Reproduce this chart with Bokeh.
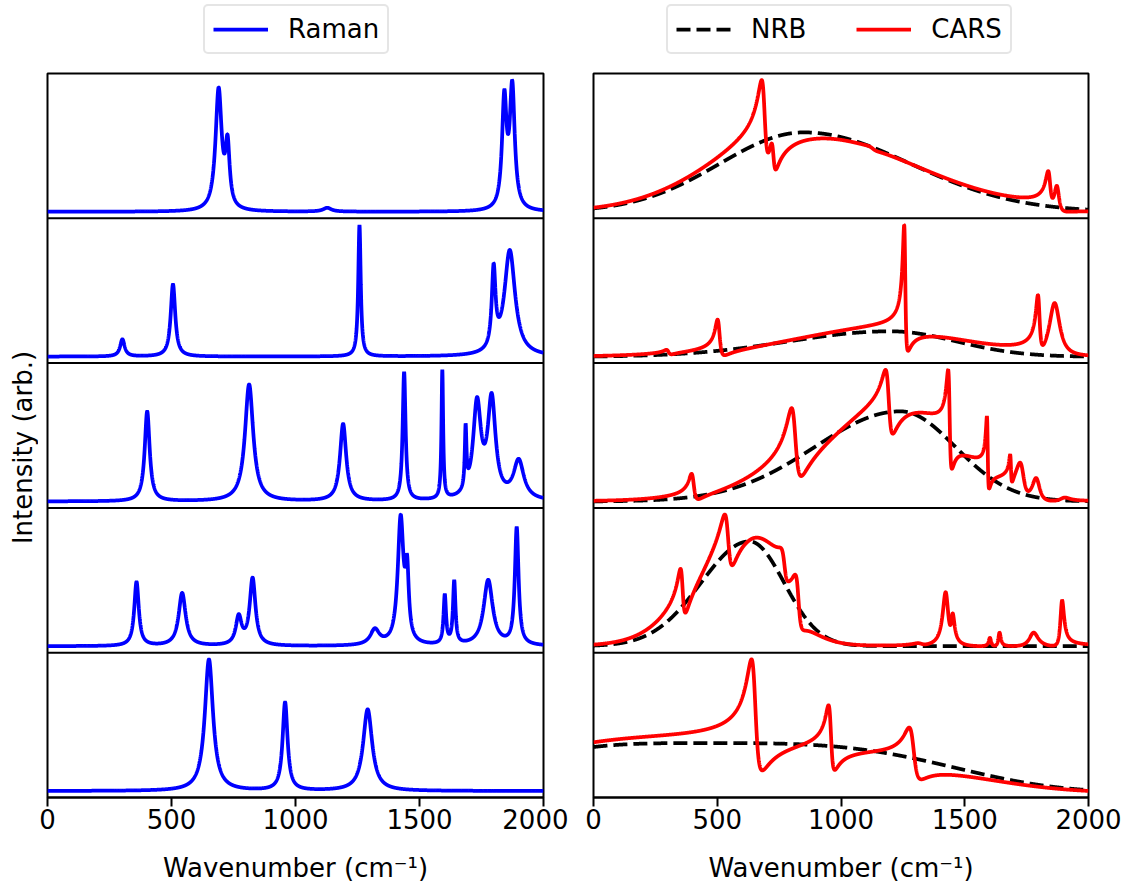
import numpy as np
from math import pi
from bokeh.plotting import figure
from bokeh.models import Range1d, Span, Legend, LegendItem, Label, FixedTicker
from bokeh.layouts import row, column
from bokeh.embed import file_html
from bokeh.resources import INLINE

# ---------------- data ----------------
x_ticks = [0, 500, 1000, 1500, 2000]
x_label = "Wavenumber (cm\u207b\u00b9)"
y_label = "Intensity (arb.)"

# Raman bands per panel (top to bottom): centre (cm-1), height, half width (cm-1)
p1_pos = [690, 726, 1128, 1842, 1874]
p1_amp = [0.95, 0.47, 0.03, 0.85, 0.95]
p1_wid = [15, 10, 20, 11, 12]

p2_pos = [302, 506, 1258, 1799, 1864]
p2_amp = [0.13, 0.55, 1.0, 0.60, 0.80]
p2_wid = [11, 11, 6, 9, 26]

p3_pos = [402, 813, 1192, 1438, 1592, 1686, 1732, 1791, 1900]
p3_amp = [0.70, 0.91, 0.60, 1.0, 1.0, 0.47, 0.73, 0.76, 0.30]
p3_wid = [12, 20, 15, 7, 4, 4, 19, 19, 25]

p4_pos = [359, 543, 771, 827, 1320, 1424, 1450, 1602, 1640, 1777, 1892]
p4_amp = [0.46, 0.38, 0.20, 0.48, 0.11, 0.90, 0.45, 0.35, 0.45, 0.47, 0.84]
p4_wid = [11, 17, 14, 14, 22, 14, 8, 6, 6, 22, 9]

p5_pos = [651, 958, 1291]
p5_amp = [1.0, 0.67, 0.62]
p5_wid = [20, 12, 22]

# CARS: Raman susceptibility scale per panel
cars_scale = [0.42, 0.80, 0.49, 0.68, 0.61]
# NRB envelope per panel: peak value, centre, left width, right width, exponent
nrb_amp = [0.62, 0.20, 0.69, 0.83, 0.39]
nrb_ctr = [850, 1200, 1240, 630, 450]
nrb_wl = [340, 410, 345, 195, 757]
nrb_wr = [430, 265, 222, 140, 921]
nrb_pow = [2, 2, 2, 2, 3.45]

panels = [(p1_pos, p1_amp, p1_wid), (p2_pos, p2_amp, p2_wid), (p3_pos, p3_amp, p3_wid),
          (p4_pos, p4_amp, p4_wid), (p5_pos, p5_amp, p5_wid)]

wn = np.linspace(0, 2000, 4001)


def chi_r(pos, amp, wid):
    c = np.zeros_like(wn, dtype=complex)
    for c0, a, g in zip(pos, amp, wid):
        c += a * g / (c0 - wn - 1j * g)
    return c


def nrb_curve(i):
    w = np.where(wn < nrb_ctr[i], nrb_wl[i], nrb_wr[i])
    return nrb_amp[i] * np.exp(-0.5 * np.abs((wn - nrb_ctr[i]) / w) ** nrb_pow[i])


def to_band(curves, i):
    lo = min(c.min() for c in curves)
    hi = max(c.max() for c in curves)
    r = hi - lo
    base = 4 - i
    return [base + (c - lo + 0.05 * r) / (1.1 * r) for c in curves]


FONT = "DejaVu Sans"
FS = "26px"
LW = 3.75
DASH = "14 6"


def make_fig(width, left, right):
    p = figure(width=width, height=825, x_range=Range1d(0, 2000), y_range=Range1d(0, 5),
               output_backend="svg", toolbar_location=None, y_axis_location=None,
               min_border_left=left, min_border_right=right, min_border_top=10,
               min_border_bottom=91)
    p.xgrid.visible = False
    p.ygrid.visible = False
    p.outline_line_color = "black"
    p.outline_line_width = 2
    p.outline_line_alpha = 1
    ax = p.xaxis[0]
    ax.ticker = FixedTicker(ticks=x_ticks)
    ax.major_tick_out = 9
    ax.major_tick_in = 0
    ax.minor_tick_out = 0
    ax.minor_tick_in = 0
    ax.major_tick_line_width = 2
    ax.axis_line_width = 2
    ax.major_label_text_font = FONT
    ax.major_label_text_font_size = FS
    ax.major_label_text_color = "black"
    ax.major_label_standoff = 2
    ax.axis_label = x_label
    ax.axis_label_text_font = FONT
    ax.axis_label_text_font_size = FS
    ax.axis_label_text_font_style = "normal"
    ax.axis_label_text_color = "black"
    ax.axis_label_standoff = 21
    for k in range(1, 5):
        p.add_layout(Span(location=k, dimension="width", line_color="black", line_width=2))
    return p


def blank_fig(width, height):
    f = figure(width=width, height=height, x_range=Range1d(0, 1), y_range=Range1d(0, 1),
               output_backend="svg", toolbar_location=None, x_axis_location=None,
               y_axis_location=None, min_border_left=0, min_border_right=0,
               min_border_top=0, min_border_bottom=0)
    f.xgrid.visible = False
    f.ygrid.visible = False
    f.outline_line_color = None
    return f


def style_legend(leg):
    leg.orientation = "horizontal"
    leg.label_text_font = FONT
    leg.label_text_font_size = FS
    leg.label_text_color = "black"
    leg.glyph_width = 55
    leg.glyph_height = 30
    leg.label_height = 30
    leg.label_standoff = 20
    leg.spacing = 50
    leg.padding = 8
    leg.margin = 0
    leg.border_line_color = "#cccccc"
    leg.border_line_width = 2
    leg.background_fill_color = "white"
    leg.background_fill_alpha = 1
    try:
        leg.border_radius = 5
    except Exception:
        pass


left = make_fig(530, 9, 25)
right = make_fig(563, 25, 43)

for i, (pos, amp, wid) in enumerate(panels):
    chi = chi_r(pos, amp, wid)
    raman = chi.imag
    (yr,) = to_band([raman], i)
    left.line(wn, yr, line_color="blue", line_width=LW)
    bg = nrb_curve(i)
    cars = np.abs(np.sqrt(bg) + cars_scale[i] * chi) ** 2
    yb, yc = to_band([bg, cars], i)
    right.line(wn, yb, line_color="black", line_width=LW, line_dash=DASH)
    right.line(wn, yc, line_color="red", line_width=LW)

# legend strips above the two columns (proxy lines lie outside the visible range)
hid_x = [-5, -4]
hid_y = [-5, -5]
leg_fig_l = blank_fig(568, 63)
r_raman = leg_fig_l.line(x=hid_x, y=hid_y, line_color="blue", line_width=LW)
leg_l = Legend(items=[LegendItem(label="Raman", renderers=[r_raman])], location=(203, 9))
style_legend(leg_l)
leg_fig_l.add_layout(leg_l)

leg_fig_r = blank_fig(563, 63)
r_nrb = leg_fig_r.line(x=hid_x, y=hid_y, line_color="black", line_width=LW, line_dash=DASH)
r_cars = leg_fig_r.line(x=hid_x, y=hid_y, line_color="red", line_width=LW)
leg_r = Legend(items=[LegendItem(label="NRB", renderers=[r_nrb]),
                      LegendItem(label="CARS", renderers=[r_cars])], location=(98, 9))
style_legend(leg_r)
leg_fig_r.add_layout(leg_r)

# y label strip (its frame is aligned with the panel frames of the row)
ylab = blank_fig(38, 825)
ylab.add_layout(Label(x=22, y=350, x_units="screen", y_units="screen", text=y_label,
                      angle=pi / 2, text_align="center", text_baseline="middle",
                      text_font=FONT, text_font_size=FS, text_color="black"))

layout = column(row(leg_fig_l, leg_fig_r), row(ylab, left, right))
open("out.html", "w").write(file_html(layout, INLINE))
